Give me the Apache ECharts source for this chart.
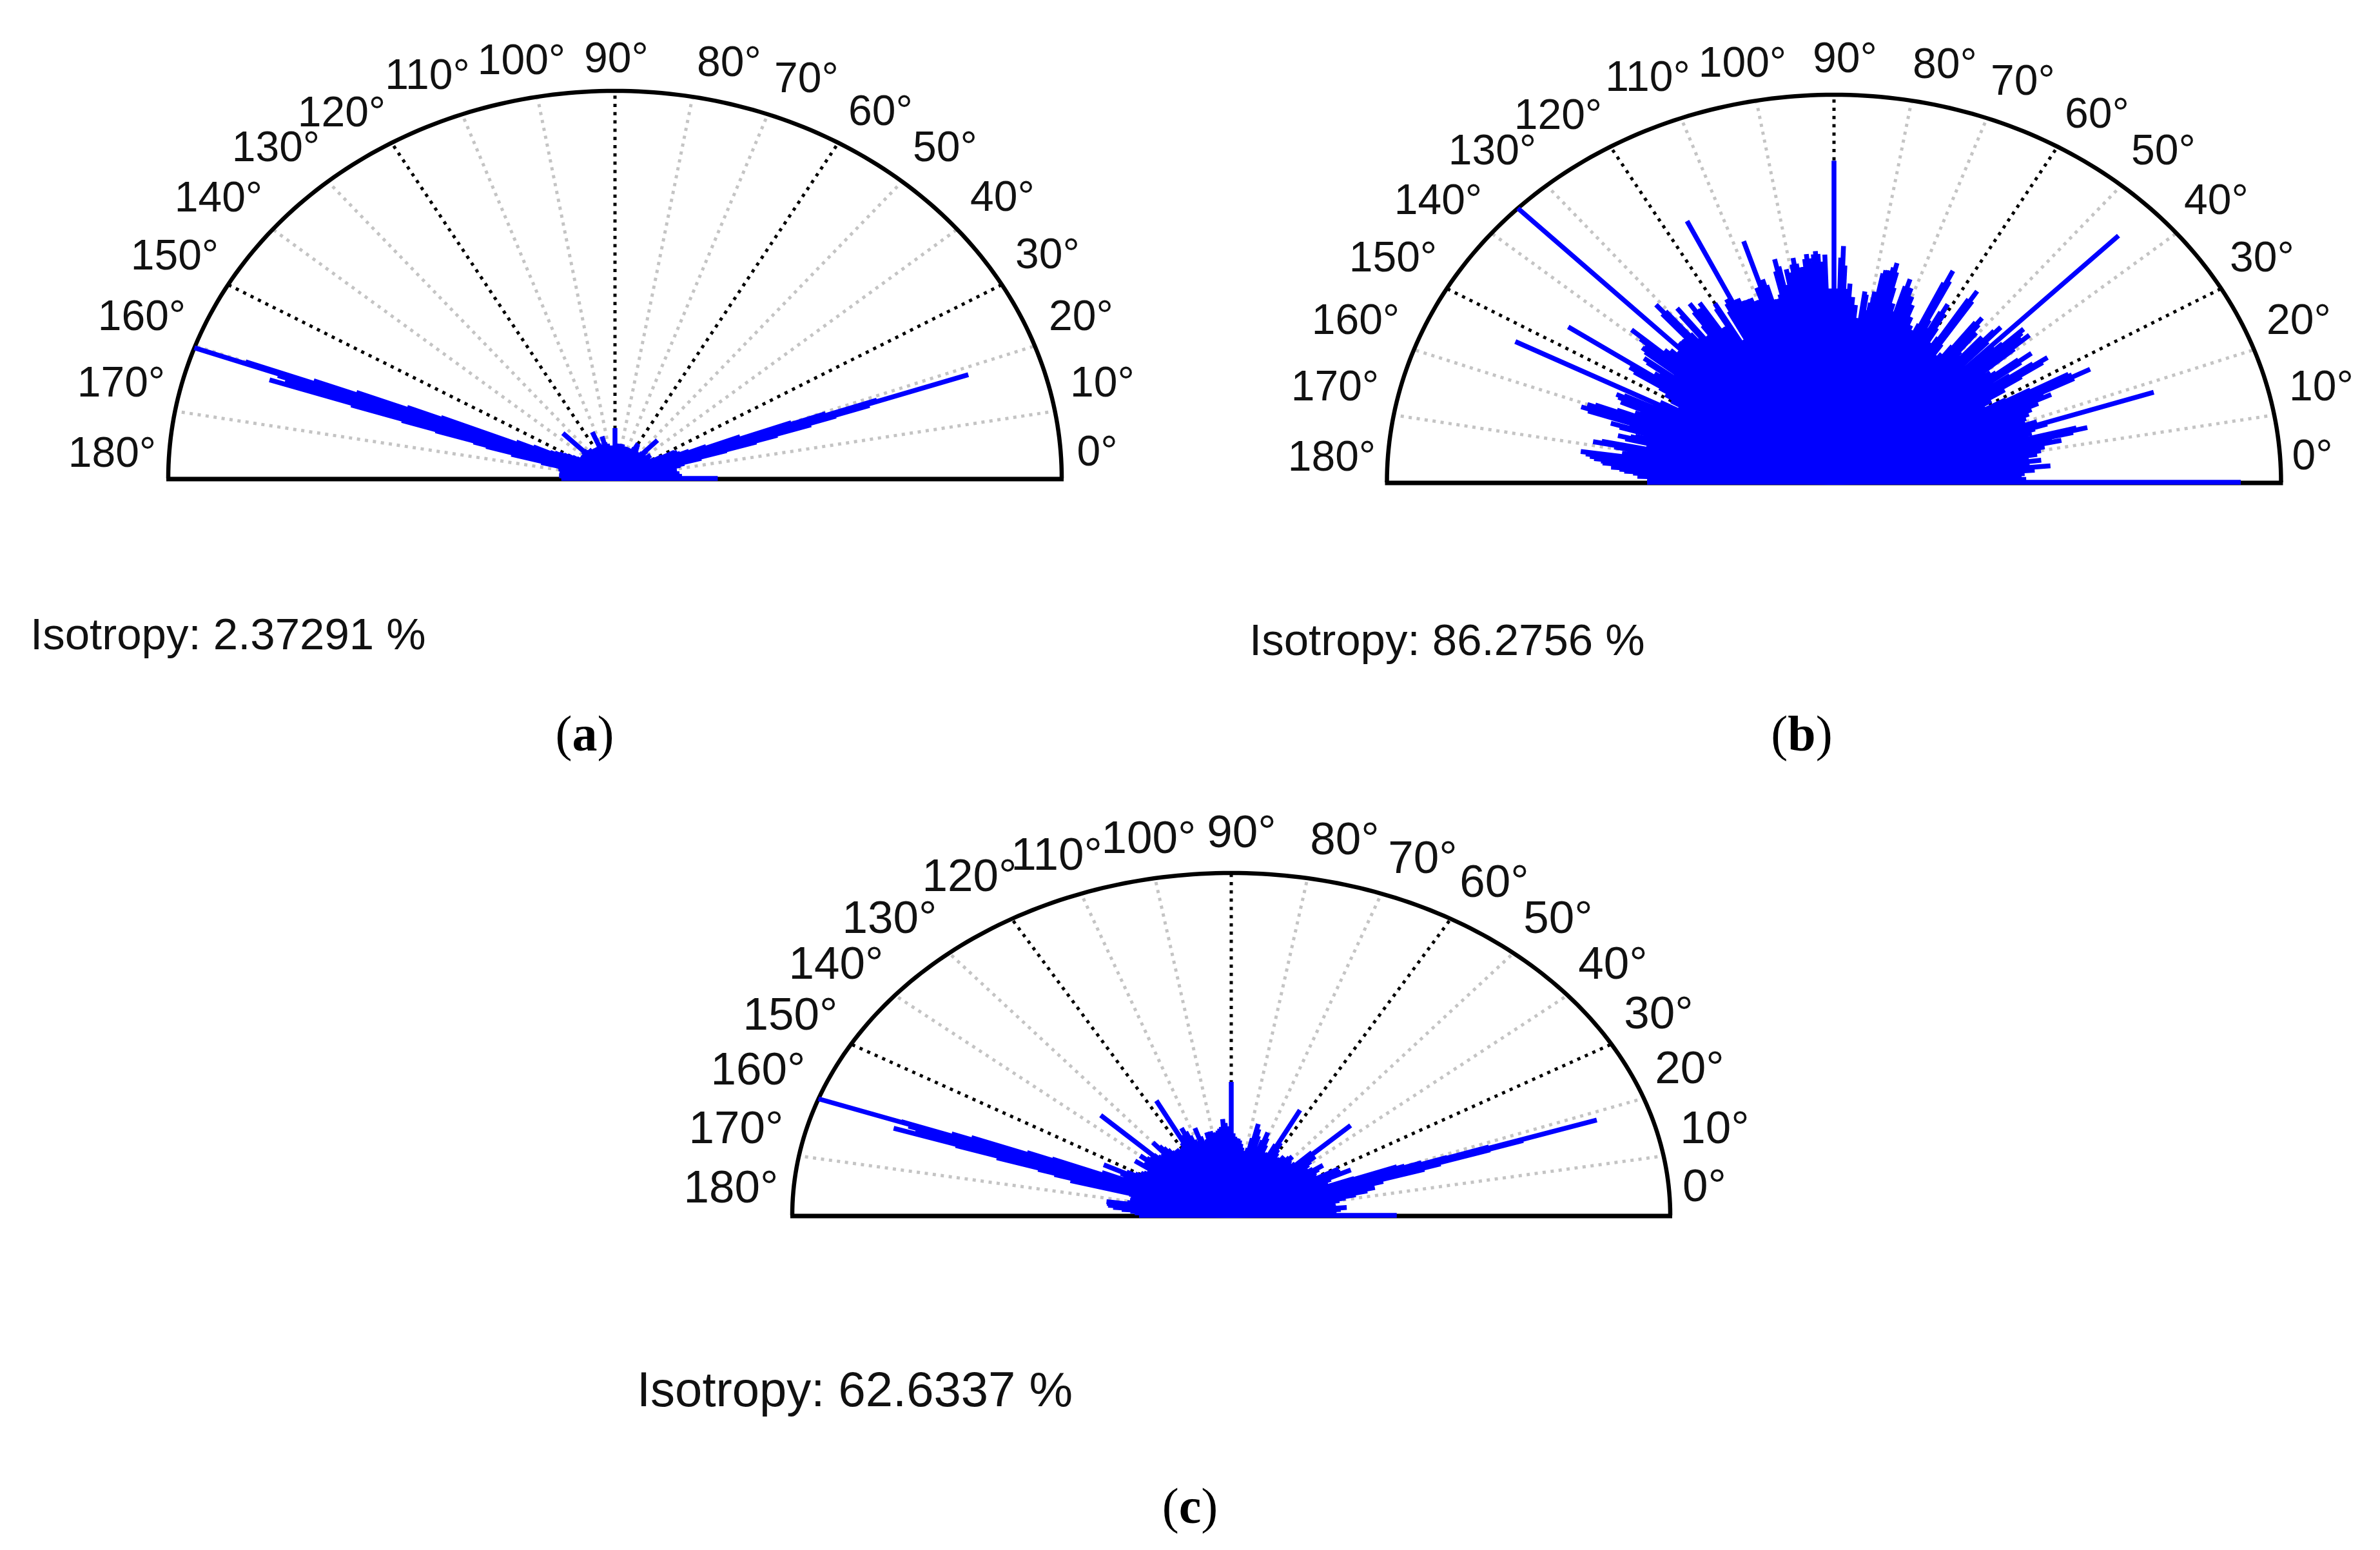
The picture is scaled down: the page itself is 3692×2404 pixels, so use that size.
<!DOCTYPE html>
<html><head><meta charset="utf-8">
<style>html,body{margin:0;padding:0;background:#fff}#c{width:3692px;height:2404px}</style>
<script src="https://cdn.jsdelivr.net/npm/echarts@6/dist/echarts.min.js"></script>
</head><body><div id="c"></div>
<script>
// ---- values: radius (1 = outer arc) per whole degree, 0..180 ----
const radiiA = [.23,.15,.15,.145,.14,.145,.14,.135,.14,.13,.13,.14,.135,.15,.16,.2,.26,.38,.52,.62,.42,.3,.22,.18,.16,.155,.155,.15,.12,.1,.09,.088,.085,.09,.085,.09,.095,.1,.09,.085,.09,.085,.08,.085,.09,.1,.137,.09,.085,.08,.08,.085,.08,.085,.08,.08,.085,.09,.095,.1,.104,.09,.08,.08,.075,.08,.075,.08,.085,.08,.075,.085,.075,.08,.08,.085,.08,.075,.08,.09,.08,.085,.08,.075,.08,.085,.09,.085,.09,.09,.13,.085,.08,.08,.085,.08,.075,.08,.085,.08,.085,.09,.085,.09,.095,.112,.09,.085,.09,.085,.09,.09,.095,.13,.09,.085,.09,.085,.08,.085,.09,.085,.085,.09,.085,.09,.085,.09,.095,.09,.085,.09,.09,.095,.1,.165,.1,.09,.09,.095,.09,.09,.095,.09,.09,.095,.09,.092,.092,.1,.11,.12,.13,.14,.15,.16,.2,.24,.42,.62,.88,.76,.62,.42,.3,.24,.17,.13,.128,.128,.125,.125,.125,.12,.125,.12,.125,.125,.12,.12,.12];
const extraAnglesA = [16.5,17.5,18.3,18.7,19.5,158.5,159.5,160.3,160.6,161.4,161.8,162.2,162.6,163.5];
const extraRadiiA  = [.33,.46,.6,.835,.5,.5,.72,1.0,.8,.78,.814,.62,.5,.33];

const radiiB = [.91,.43,.42,.427,.45,.486,.44,.467,.44,.46,.47,.48,.52,.5,.584,.451,.46,.47,.752,.48,.455,.46,.47,.48,.5,.536,.5,.643,.594,.44,.39,.41,.45,.5,.576,.48,.44,.553,.46,.45,.44,.579,.52,.58,.42,.9,.42,.547,.45,.43,.44,.47,.538,.44,.41,.4,.43,.588,.44,.42,.46,.525,.45,.47,.607,.45,.43,.44,.46,.49,.51,.53,.551,.46,.48,.52,.583,.56,.559,.5,.47,.45,.497,.427,.46,.48,.514,.5,.61,.5,.83,.5,.588,.56,.598,.57,.592,.56,.55,.586,.54,.56,.52,.591,.5,.49,.49,.547,.654,.531,.483,.49,.5,.5,.51,.52,.75,.53,.5,.42,.533,.47,.47,.552,.5,.563,.5,.473,.57,.48,.5,.607,.5,.5,.5,1.0,.486,.5,.51,.6,.48,.552,.453,.532,.48,.49,.717,.545,.46,.44,.42,.398,.44,.8,.45,.537,.48,.47,.48,.52,.587,.598,.48,.522,.443,.46,.498,.43,.42,.549,.47,.48,.572,.55,.524,.5,.481,.45,.44,.418,.418];
const extraAnglesB = [13.5,14.5,17.5,24.5,25.5,26.5,27.5,28.5,33.5,34.5,36.5,37.5,40.5,41.5,42.5,43.5,44.5,46.5,47.5,48.5,50.5,51.5,52.5,56.5,57.5,60.5,61.5,63.5,64.5,70.5,71.5,72.5,75.5,76.5,77.5,78.5,79.5,81.5,87.5,88.5,92.5,93.5,94.5,95.5,96.5,97.5,98.5,99.5,100.5,102.5,103.5,106.5,107.5,109.5,110.5,111.5,112.5,113.5,114.5,115.5,117.5,120.5,123.5,124.5,125.5,128.5,130.5,131.5,139.5,140.5,141.5,143.5,146.5,147.5,154.5,155.5,156.5,159.5,160.5,161.5,163.5,165.5,166.5,168.5,169.5,172.5,173.5,174.5,175.5,176.5];
const extraRadiiB  = [.55,.56,.5,.5,.52,.6,.6,.5,.56,.54,.52,.52,.53,.56,.57,.52,.5,.5,.53,.5,.5,.52,.52,.56,.56,.5,.5,.58,.57,.5,.53,.53,.56,.57,.56,.55,.5,.49,.56,.58,.57,.59,.59,.58,.58,.56,.57,.57,.55,.57,.56,.53,.52,.5,.5,.51,.51,.51,.52,.52,.52,.52,.54,.54,.54,.55,.58,.58,.57,.55,.54,.52,.53,.53,.52,.53,.52,.57,.58,.58,.5,.47,.48,.53,.5,.56,.54,.52,.5,.47];

const radiiC = [.377,.23,.235,.24,.25,.264,.24,.235,.23,.24,.25,.265,.29,.318,.337,.33,.36,.46,.62,.52,.42,.3,.227,.23,.24,.25,.303,.28,.26,.28,.225,.22,.225,.23,.24,.255,.23,.22,.215,.22,.23,.24,.257,.25,.378,.26,.21,.2,.197,.205,.21,.221,.215,.2,.205,.21,.2,.195,.19,.2,.21,.22,.24,.345,.23,.2,.195,.19,.2,.22,.24,.256,.23,.2,.21,.24,.26,.274,.23,.2,.19,.18,.19,.2,.21,.22,.225,.226,.23,.24,.39,.25,.26,.27,.282,.26,.255,.25,.245,.24,.245,.25,.245,.249,.23,.22,.225,.24,.268,.23,.22,.235,.25,.265,.279,.26,.25,.376,.24,.23,.225,.22,.225,.23,.22,.225,.23,.24,.25,.26,.278,.24,.23,.235,.24,.25,.25,.25,.25,.255,.271,.25,.245,.25,.271,.23,.23,.23,.235,.24,.24,.25,.27,.326,.28,.26,.27,.32,.44,.634,.8,.72,.66,.46,.37,.24,.235,.23,.23,.235,.233,.24,.287,.285,.282,.27,.25,.23,.22,.21,.21];
const extraAnglesC = [135.5,158.5,159.5,160.1,160.5,161.4,161.7,162.5,163.5,164.5,17.5,18.2,18.5,18.8,19.5,20.6];
const extraRadiiC  = [.417,.5,.68,1.0,.78,.76,.81,.56,.42,.38,.5,.7,.878,.62,.46,.403];

const tickLabels = ['0°','10°','20°','30°','40°','50°','60°','70°','80°','90°','100°','110°','120°','130°','140°','150°','160°','170°','180°'];
const spokeAngles = [10,20,30,40,50,60,70,80,90,100,110,120,130,140,150,160,170];
const majorSpokes = [30,60,90,120,150];
const isotropyTexts = ['Isotropy: 2.37291 %','Isotropy: 86.2756 %','Isotropy: 62.6337 %'];
const panelLetters = ['a','b','c'];

// ---- layout, kept apart from the values ----
const panels = [
 {cx:954, base:742, rx:693, ry:601, font:66, isoX:47, isoY:988, isoSize:69, capX:907, capY:1144,
  lx:[1702,1710,1677,1625,1555,1466,1366,1251,1131,956,809,663,530,428,339,271,220,188,174],
  ly:[700,593,490,394,305,228,172,121,96,90,93,116,174,228,306,396,490,593,702]},
 {cx:2845, base:748, rx:693.5, ry:601, font:66, isoX:1938, isoY:997, isoSize:69, capX:2795, capY:1144,
  lx:[3587,3601,3566,3509,3438,3356,3253,3138,3017,2862,2703,2556,2417,2315,2231,2161,2103,2071,2066],
  ly:[706,599,496,399,310,233,176,125,99,90,97,119,178,233,310,399,496,599,708]},
 {cx:1910, base:1885, rx:681, ry:531, font:71, isoX:988, isoY:2160, isoSize:76, capX:1846, capY:2342,
  lx:[2644,2660,2621,2573,2502,2417,2318,2207,2086,1926,1782,1639,1504,1380,1297,1226,1176,1142,1134],
  ly:[1839,1749,1656,1571,1494,1423,1367,1330,1301,1290,1299,1325,1358,1423,1494,1573,1658,1749,1841]}
];
const dataSets = [
 {r:radiiA, ea:extraAnglesA, er:extraRadiiA},
 {r:radiiB, ea:extraAnglesB, er:extraRadiiB},
 {r:radiiC, ea:extraAnglesC, er:extraRadiiC}
];
const labelDropY = 4;
const SANS = '"Liberation Sans", Arial, sans-serif';
const SERIF = '"Liberation Serif", "Times New Roman", serif';

const rad = d => d * Math.PI / 180;
const toXY = (deg, r) => [r * Math.cos(rad(deg)), r * Math.sin(rad(deg))];

function spokeSeries(i, angles, color, width, dash) {
  return {
    type:'custom', coordinateSystem:'cartesian2d', xAxisIndex:i, yAxisIndex:i, silent:true, clip:false, z:2,
    data: angles.map(a => [a, 1]),
    renderItem(params, api) {
      const p0 = api.coord([0,0]), p1 = api.coord(toXY(api.value(0), api.value(1)));
      return {type:'line', shape:{x1:p0[0],y1:p0[1],x2:p1[0],y2:p1[1]},
        style:{stroke:color, lineWidth:width, lineDash:dash, lineCap:'butt', fill:null}};
    }
  };
}
function frameSeries(i) {
  return {
    type:'custom', coordinateSystem:'cartesian2d', xAxisIndex:i, yAxisIndex:i, silent:true, clip:false, z:3,
    data:[[0,1]],
    renderItem(params, api) {
      const pts = [];
      for (let d = 0; d <= 180; d++) pts.push(api.coord(toXY(d, 1)));
      const a = api.coord([-1,0]), b = api.coord([1,0]);
      return {type:'group', children:[
        {type:'polyline', shape:{points:pts}, style:{stroke:'#000', lineWidth:6.5, fill:null}},
        {type:'line', shape:{x1:a[0]-3,y1:a[1]+1,x2:b[0]+3,y2:b[1]+1}, style:{stroke:'#000', lineWidth:7}}
      ]};
    }
  };
}
function spikeSeries(i, ds) {
  const data = ds.r.map((v, d) => [d, v]).concat(ds.ea.map((a, k) => [a, ds.er[k]]));
  return {
    type:'custom', coordinateSystem:'cartesian2d', xAxisIndex:i, yAxisIndex:i, silent:true, clip:false, z:4,
    data,
    renderItem(params, api) {
      const p0 = api.coord([0,0]), p1 = api.coord(toXY(api.value(0), api.value(1)));
      return {type:'line', shape:{x1:p0[0],y1:p0[1],x2:p1[0],y2:p1[1]},
        style:{stroke:'#0000ff', lineWidth:7.5, lineCap:'butt', fill:null}};
    }
  };
}

const graphic = [];
panels.forEach((p, i) => {
  tickLabels.forEach((t, k) => graphic.push({type:'text', silent:true,
    style:{text:t, x:p.lx[k], y:p.ly[k]+labelDropY, fill:'#111', font:`${p.font}px ${SANS}`, align:'center', verticalAlign:'middle'}}));
  graphic.push({type:'text', silent:true,
    style:{text:isotropyTexts[i], x:p.isoX, y:p.isoY, fill:'#111', font:`${p.isoSize}px ${SANS}`, align:'left', verticalAlign:'middle'}});
  graphic.push({type:'text', silent:true,
    style:{text:'({b|'+panelLetters[i]+'})', x:p.capX, y:p.capY, fill:'#000', fontFamily:SERIF, fontSize:78, align:'center', verticalAlign:'middle',
      rich:{b:{fontFamily:SERIF, fontSize:78, fontWeight:'bold', fill:'#000', color:'#000'}}}});
});

const option = {
  animation:false,
  backgroundColor:'#fff',
  grid: panels.map(p => ({left:p.cx-p.rx, top:p.base-p.ry, width:2*p.rx, height:p.ry, containLabel:false})),
  xAxis: panels.map((p, i) => ({type:'value', gridIndex:i, min:-1, max:1, show:false})),
  yAxis: panels.map((p, i) => ({type:'value', gridIndex:i, min:0, max:1, show:false})),
  series: panels.flatMap((p, i) => [
    spokeSeries(i, spokeAngles.filter(a => !majorSpokes.includes(a)), '#c4c4c4', 5, [5,7.5]),
    spokeSeries(i, majorSpokes, '#000', 5, [5,7.8]),
    frameSeries(i),
    spikeSeries(i, dataSets[i])
  ]),
  graphic
};
const chart = echarts.init(document.getElementById('c'), null, {renderer:'canvas', width:3692, height:2404});
chart.setOption(option);
</script></body></html>
